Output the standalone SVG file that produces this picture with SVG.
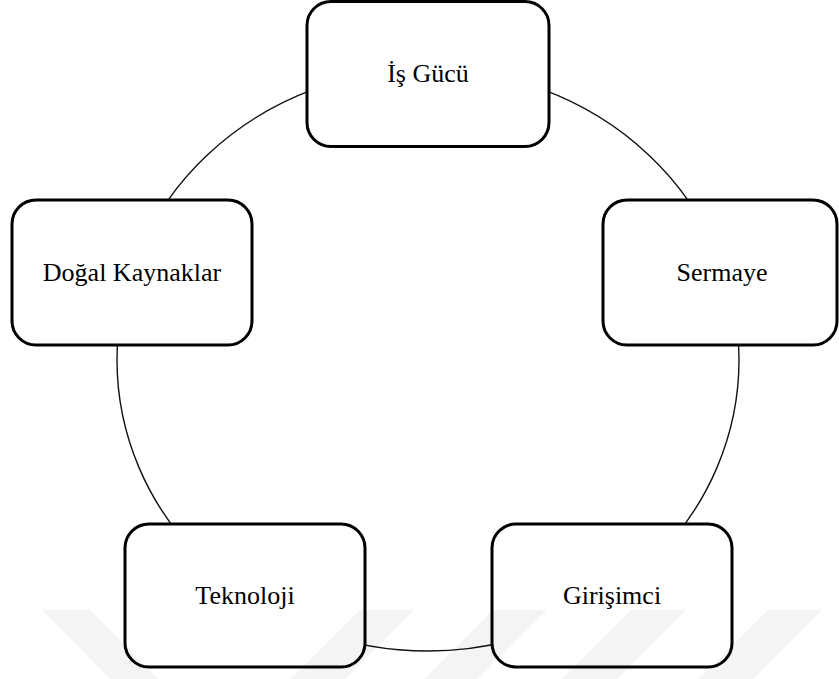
<svg xmlns="http://www.w3.org/2000/svg" width="839" height="679" viewBox="0 0 839 679">
  <style>
    .box { fill: #ffffff; stroke: #000000; stroke-width: 3; }
    .label { font-family: "Liberation Serif", "Times New Roman", serif; font-size: 26px; fill: #000000; text-anchor: middle; }
    .ring { fill: none; stroke: #111111; stroke-width: 1.4; }
    .stripe { fill: #000000; fill-opacity: 0.045; }
  </style>

  <rect width="839" height="679" fill="#ffffff"/>

  <!-- cycle ring linking the five factors -->
  <g id="connectors">
    <ellipse class="ring" cx="428" cy="360" rx="311" ry="291"/>
  </g>

  <g id="node-is-gucu">
    <rect class="box" x="307" y="1.5" width="242" height="145" rx="24" ry="24"/>
    <text class="label" x="428" y="82">İş Gücü</text>
  </g>

  <g id="node-sermaye">
    <rect class="box" x="603" y="200" width="234" height="145" rx="24" ry="24"/>
    <text class="label" x="722" y="281">Sermaye</text>
  </g>

  <g id="node-girisimci">
    <rect class="box" x="492" y="524" width="240" height="143" rx="24" ry="24"/>
    <text class="label" x="612" y="604">Girişimci</text>
  </g>

  <g id="node-teknoloji">
    <rect class="box" x="125" y="524" width="240" height="143" rx="24" ry="24"/>
    <text class="label" x="245" y="604">Teknoloji</text>
  </g>

  <g id="node-dogal-kaynaklar">
    <rect class="box" x="12" y="200" width="240" height="145" rx="24" ry="24"/>
    <text class="label" x="132" y="281">Doğal Kaynaklar</text>
  </g>

  <!-- faint diagonal band pattern along the lower edge -->
  <g id="bands">
    <polygon class="stripe" points="42,610 90,610 158,679 110,679"/>
    <polygon class="stripe" points="360,610 414,610 345,679 291,679"/>
    <polygon class="stripe" points="493,610 547,610 478,679 424,679"/>
    <polygon class="stripe" points="631,610 686,610 617,679 562,679"/>
    <polygon class="stripe" points="768,610 822,610 753,679 699,679"/>
  </g>
</svg>
